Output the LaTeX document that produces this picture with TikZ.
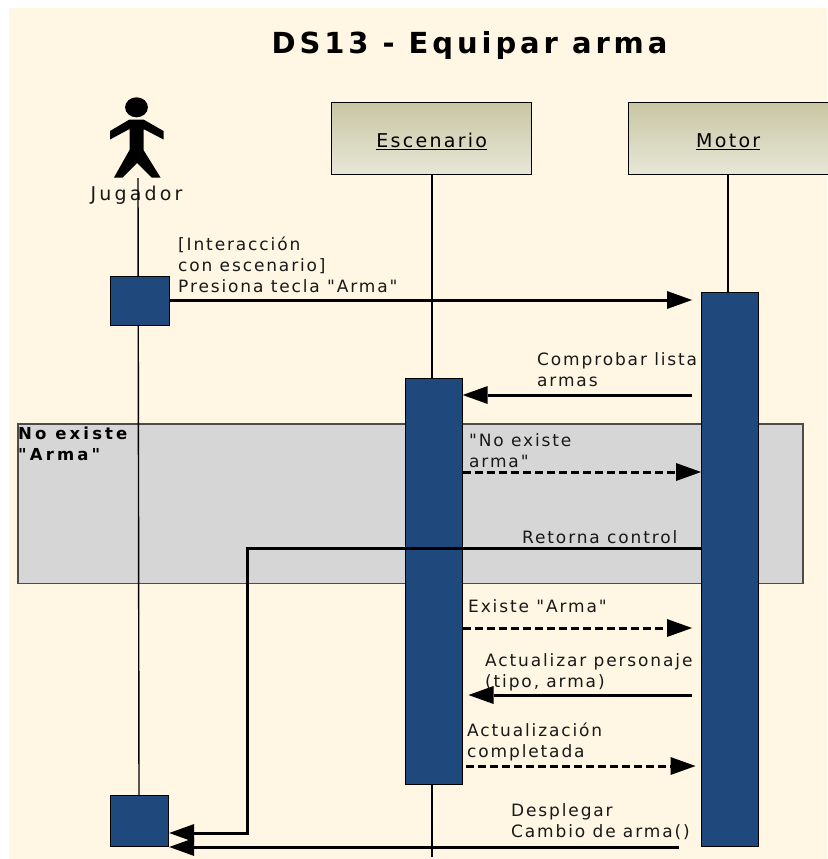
\documentclass[tikz,border=0pt]{standalone}
\usepackage{fontspec}
\setmainfont{DejaVu Sans}[LetterSpace=11,Ligatures=TeXOff]
\newfontfamily\titlefont{DejaVu Sans}[LetterSpace=13.5,Ligatures=TeXOff]
\newfontfamily\framefont{DejaVu Sans}[LetterSpace=19,Ligatures=TeXOff]
\newfontfamily\boxfont{DejaVu Sans}[LetterSpace=12,Ligatures=TeXOff]
\newfontfamily\jugfont{DejaVu Sans}[LetterSpace=16.5,Ligatures=TeXOff]
\usetikzlibrary{arrows.meta}
\definecolor{bgc}{HTML}{FFF6E3}
\definecolor{blu}{HTML}{1F497D}
\definecolor{grayb}{HTML}{D6D6D6}
\definecolor{ctop}{HTML}{C8C6A2}
\definecolor{cbot}{HTML}{E8E7D8}
\tikzset{
  x=1pt,y=-1pt,
  lbl/.style={font=\fontsize{17}{21}\selectfont,anchor=north west,inner sep=0pt,align=left,text=black!90},
  act/.style={draw=black,line width=1.2pt,fill=blu,anchor=north west,inner sep=0pt},
  lifebox/.style={draw=black,line width=1.4pt,top color=ctop,bottom color=cbot,anchor=north west,inner sep=0pt,minimum width=200pt,minimum height=72pt,font=\boxfont\fontsize{19}{22}\selectfont},
  life/.style={draw=black,line width=1.4pt},
  msg/.style={draw=black,line width=3pt,-{Triangle[length=25pt,width=18pt,line width=0pt]}},
  rmsg/.style={msg,dash pattern=on 8pt off 4pt},
}
\begin{document}
\begin{tikzpicture}
\useasboundingbox (0,0) rectangle (827,859);
\fill[white] (0,0) rectangle (827,859);
\fill[bgc] (9,8) rectangle (827,859);
% grey frame
\node[draw=black!70,line width=1.5pt,fill=grayb,anchor=north west,inner sep=0pt,minimum width=785pt,minimum height=159.5pt] (frame) at (17,423) {};
\node[font=\framefont\fontsize{16.5}{21}\selectfont\bfseries,anchor=north west,inner sep=0pt,align=left] (framelbl) at (18,427) {No existe\\"Arma"};
% title
\node[font=\titlefont\fontsize{29}{34}\selectfont\bfseries,inner sep=0pt] (title) at (469.5,45) {DS13 - Equipar arma};
% actor
\fill[black] (136.5,107.3) ellipse (11.4 and 10);
\fill[black] (129.5,119.5) -- (143.5,119.5) -- (163.5,131) -- (163.5,139.5) -- (143.5,129) -- (143.5,150) -- (160.5,177.5) -- (151.7,177.5) -- (137,163) -- (122.7,177.5) -- (114,177.5) -- (129.5,150) -- (129.5,129) -- (110,139.5) -- (110,131) -- cycle;
\node[lbl,font=\jugfont\fontsize{19}{22}\selectfont,anchor=center] (jug) at (136.5,195) {Jugador};
% boxes
\node[lifebox] (esc) at (331,101.5) {\raisebox{-9pt}[0pt][0pt]{\underline{Escenario}}};
\node[lifebox] (mot) at (627.5,101.5) {\raisebox{-9pt}[0pt][0pt]{\underline{Motor}}};
% lifelines and activations
\coordinate (jtop) at (138,178);
\coordinate (jbot) at (139,796);
\coordinate (eend) at (432,857);
\draw[life] (jtop) -- (jbot);
\draw[life] (esc.south -| 432,0) -- (eend);
\draw[life] (mot.south -| 728,0) -- (728,295);
\node[act,minimum width=58.5pt,minimum height=49pt] (a1) at (110,275.5) {};
\node[act,minimum width=57pt,minimum height=406pt] (a2) at (404.5,377.5) {};
\node[act,minimum width=57pt,minimum height=554pt] (a3) at (701,291.5) {};
\node[act,minimum width=58pt,minimum height=51pt] (a4) at (110,795) {};
% messages
\coordinate (m1e) at (692,300);
\coordinate (m2s) at (692,395);
\coordinate (m5e) at (692,628);
\coordinate (m6s) at (692,695);
\coordinate (m6e) at (468.5,695);
\coordinate (m7s) at (466,766);
\coordinate (m7e) at (695.5,766);
\coordinate (m8s) at (679,847);
\coordinate (m4c) at (247,548.5);
\coordinate (m4d) at (247,833);
\draw[msg] (a1.east |- m1e) -- (m1e);
\draw[msg] (m2s) -- (a2.east |- m2s);
\draw[rmsg] (a2.east |- 0,472) -- (a3.west |- 0,472);
\draw[msg] (a3.west |- m4c) -- (m4c) -- (m4d) -- (a4.east |- m4d);
\draw[rmsg] (a2.east |- m5e) -- (m5e);
\draw[msg] (m6s) -- (m6e);
\draw[rmsg] (m7s) -- (m7e);
\draw[msg] (m8s) -- (a4.east |- m8s);
% labels
\node[lbl] (t1) at (178,237) {[Interacción\\con escenario]\\Presiona tecla "Arma"};
\node[lbl] (t2) at (537,352) {Comprobar lista\\armas};
\node[lbl] (t3) at (469,433) {"No existe\\arma"};
\node[lbl] (t4) at (522,530) {Retorna control};
\node[lbl] (t5) at (468,599) {Existe "Arma"};
\node[lbl] (t6) at (485,653) {Actualizar personaje\\(tipo, arma)};
\node[lbl] (t7) at (467,723) {Actualización\\completada};
\node[lbl] (t8) at (511,803) {Desplegar\\Cambio de arma()};
\end{tikzpicture}
\end{document}
